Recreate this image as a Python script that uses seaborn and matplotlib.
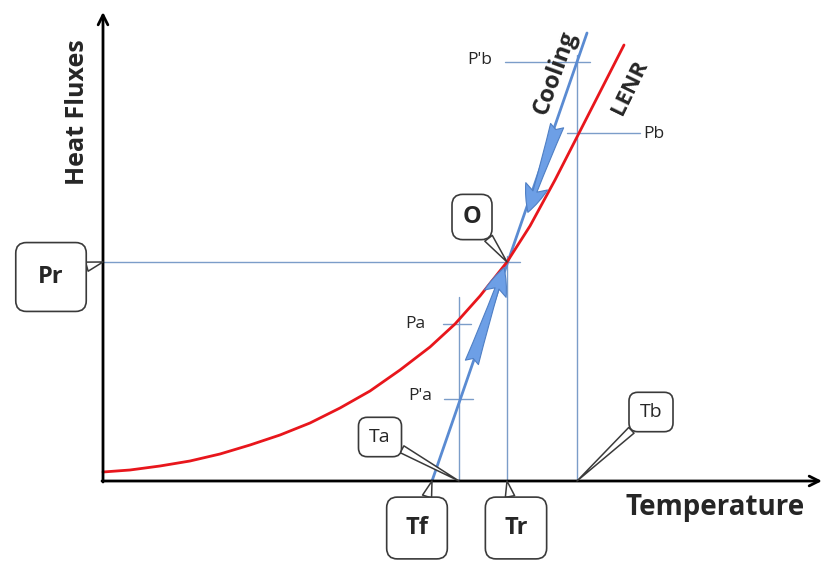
import matplotlib
matplotlib.use("Agg")
import matplotlib.pyplot as plt
import seaborn as sns
import pandas as pd
from matplotlib.patches import FancyArrowPatch

# LENR heat flux curve (temperature, heat flux) in arbitrary units
lenr_temp = [0, 27, 57, 87, 117, 147, 177, 207, 237, 267, 297, 327, 352, 377, 404, 427, 452, 474, 497, 521]
lenr_flux = [9, 11, 15, 20, 27, 36, 46, 58, 73, 90, 111, 134, 157, 185, 219, 255, 301, 344, 389, 436]

# cooling line
cooling_temp = [329, 484]
cooling_flux = [0, 448]

# marked temperatures and fluxes
temp_marks = {"Tf": 329, "Ta": 356, "Tr": 404, "Tb": 474}
flux_marks = {"P'a": 82, "Pa": 157, "Pr": 219, "Pb": 348, "P'b": 419}

sns.set_style("white")
plt.rcParams['font.family'] = ['Open Sans', 'DejaVu Sans']

fig = plt.figure(figsize=(8.25, 5.69), dpi=100)
ax = fig.add_axes([0, 0, 1, 1])
ax.set_xlim(-103, 722)
ax.set_ylim(-88, 481)
ax.axis('off')

guide = "#7b9dc9"
red = "#e8161c"
blue = "#5a8bd2"

# guide lines
Tf, Ta, Tr, Tb = (temp_marks[k] for k in ["Tf", "Ta", "Tr", "Tb"])
Pa2, Pa, Pr, Pb, Pb2 = (flux_marks[k] for k in ["P'a", "Pa", "Pr", "Pb", "P'b"])
ax.plot([0, Tr + 13], [Pr, Pr], color=guide, lw=1)
ax.plot([Tr, Tr], [0, Pr + 6], color=guide, lw=1)
ax.plot([Ta, Ta], [0, Pa + 27], color=guide, lw=1)
ax.plot([Tb, Tb], [0, Pb2 + 7], color=guide, lw=1)
ax.plot([Ta - 16, Ta + 12], [Pa, Pa], color=guide, lw=1)
ax.plot([Ta - 15, Ta + 14], [Pa2, Pa2], color=guide, lw=1)
ax.plot([Tr - 2, Tb + 13], [Pb2, Pb2], color=guide, lw=1)
ax.plot([Tb - 10, Tb + 63], [Pb, Pb], color=guide, lw=1)

# curves
sns.lineplot(x=cooling_temp, y=cooling_flux, color=blue, lw=2, ax=ax, sort=False)
sns.lineplot(x=lenr_temp, y=lenr_flux, color=red, lw=2, ax=ax, sort=False)

# heating / cooling arrows along the blue line
for a, b in [((368, 116), (402, 216)), ((455, 358), (424, 266))]:
    ax.add_patch(FancyArrowPatch(a, b, arrowstyle="fancy,head_length=0.9,head_width=0.75,tail_width=0.45",
                                 mutation_scale=22, fc="#6d9fe6", ec="#4f7fc4", lw=0.8, zorder=4))

# axes with arrow heads
axis_style = dict(arrowstyle="->,head_length=0.7,head_width=0.35", lw=2, color="black",
                  shrinkA=0, shrinkB=0)
ax.annotate("", xy=(0, 469), xytext=(0, -1), arrowprops=axis_style)
ax.annotate("", xy=(719, 0), xytext=(-1, 0), arrowprops=axis_style)

ax.text(-25, 369, "Heat Fluxes", rotation=90, ha="center", va="center", fontsize=18, fontweight="bold")
ax.text(612, -27, "Temperature", ha="center", va="center", fontsize=20, fontweight="bold")

# small labels
ax.text(Ta - 34, Pa, "Pa", ha="right", va="center", fontsize=12.5)
ax.text(Ta - 27, Pa2 + 3, "P'a", ha="right", va="center", fontsize=12.5)
ax.text(Tr - 15, Pb2 + 2, "P'b", ha="right", va="center", fontsize=12.5)
ax.text(Tb + 66, Pb - 1, "Pb", ha="left", va="center", fontsize=12.5)
ax.text(452, 408, "Cooling", rotation=70, ha="center", va="center", fontsize=17, fontweight="bold")
ax.text(527, 393, "LENR", rotation=64, ha="center", va="center", fontsize=16, fontweight="bold")


def callout(label, xy, xytext, size, weight, pad):
    ax.annotate(label, xy=xy, xytext=xytext, ha="center", va="center", fontsize=size,
                fontweight=weight, zorder=6,
                bbox=dict(boxstyle=f"round,pad={pad},rounding_size=0.45", fc="white", ec="#3a3a3a", lw=1.2),
                arrowprops=dict(arrowstyle="wedge,tail_width=0.4,shrink_factor=0.5", fc="white",
                                ec="#3a3a3a", lw=1.1, shrinkA=0, shrinkB=0))


callout("Pr", (0, Pr), (-52, 204), 17, "bold", 0.95)
callout("O", (Tr, Pr), (369, 264), 17, "bold", 0.45)
callout("Ta", (Ta, 0), (277, 44), 14, "normal", 0.55)
callout("Tf", (Tf, 0), (314, -47), 17, "bold", 0.8)
callout("Tr", (Tr, 0), (413, -47), 17, "bold", 0.8)
callout("Tb", (Tb, 0), (548, 69), 14, "normal", 0.55)

fig.savefig("out.png", dpi=100)
